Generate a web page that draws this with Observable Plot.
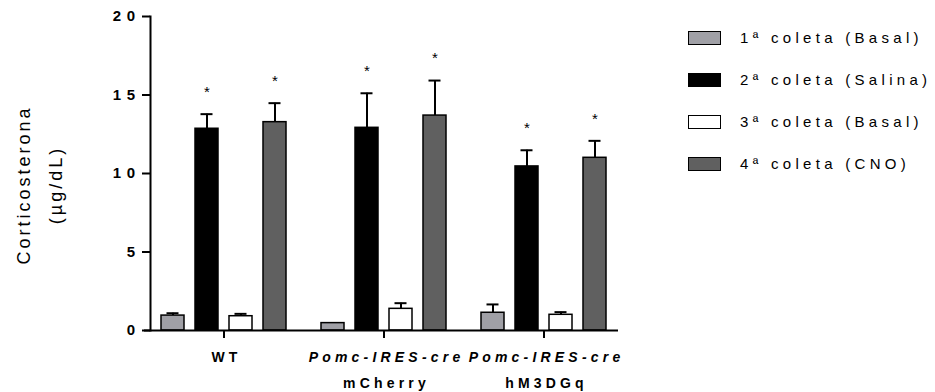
<!DOCTYPE html>
<html>
<head>
<meta charset="utf-8">
<script src="https://cdn.jsdelivr.net/npm/d3@7"></script>
<script src="https://cdn.jsdelivr.net/npm/@observablehq/plot@0.6"></script>
<style>
  body { margin: 0; background: #fff; font-family: "Liberation Sans", Arial, sans-serif; color: #000; }
  #wrap { position: relative; width: 935px; height: 392px; overflow: hidden; }
  #chart { position: absolute; left: 0; top: 0; }
  #chart svg { font-family: "Liberation Sans", Arial, sans-serif; overflow: visible; }
  g[aria-label="y-axis tick label"] text { letter-spacing: 5.5px; }
  text[aria-label="xlabel"], g[aria-label="xlabel"] text { letter-spacing: 4.2px; }
  #ytitle { position: absolute; left: 40px; top: 185px; transform: translate(-50%, -50%) rotate(-90deg);
            text-align: center; font-size: 18px; letter-spacing: 3px; line-height: 32px; white-space: nowrap; }
  #legend { position: absolute; left: 688px; top: 0; }
  .lrow { position: absolute; left: 0; display: flex; align-items: center; white-space: nowrap; }
  .lsw { width: 31px; height: 12px; border: 1.5px solid #000; box-sizing: content-box; }
  .ltx { margin-left: 19px; font-size: 15px; letter-spacing: 4.3px; }
</style>
</head>
<body>
<div id="wrap">
  <div id="chart"></div>
  <div id="ytitle"></div>
  <div id="legend"></div>
</div>
<script>
// ---- data ----
const groups = ["WT", "Pomc-IRES-cre mCherry", "Pomc-IRES-cre hM3DGq"];
const groupLine1 = ["WT", "Pomc-IRES-cre", "Pomc-IRES-cre"];
const groupLine2 = ["", "mCherry", "hM3DGq"];
const groupItalic = [false, true, true];

const series = ["1ª coleta (Basal)", "2ª coleta (Salina)", "3ª coleta (Basal)", "4ª coleta (CNO)"];
const seriesColors = ["#a0a0a6", "#000000", "#ffffff", "#606060"];

const basal1Mean = [0.95, 0.47, 1.13];
const basal1Sem  = [0.15, 0.00, 0.53];
const salinaMean = [12.85, 12.91, 10.45];
const salinaSem  = [0.93, 2.20, 1.03];
const basal3Mean = [0.91, 1.38, 1.00];
const basal3Sem  = [0.15, 0.36, 0.17];
const cnoMean    = [13.27, 13.69, 11.00];
const cnoSem     = [1.21, 2.23, 1.08];
const basal1Sig  = [false, false, false];
const salinaSig  = [true, true, true];
const basal3Sig  = [false, false, false];
const cnoSig     = [true, true, true];

const yTicks = [0, 5, 10, 15, 20];
const yTitle = ["Corticosterona", "(µg/dL)"];

// ---- build table ----
const means = [basal1Mean, salinaMean, basal3Mean, cnoMean];
const sems = [basal1Sem, salinaSem, basal3Sem, cnoSem];
const sigs = [basal1Sig, salinaSig, basal3Sig, cnoSig];
const table = groups.flatMap((g, gi) => series.map((s, si) => ({
  group: g, series: s, mean: means[si][gi], sem: sems[si][gi], sig: sigs[si][gi]
})));
const errData = table.filter(d => d.sem > 0);
const sigData = table.filter(d => d.sig);
const xLabels = groups.map((g, i) => ({group: g, line1: groupLine1[i], line2: groupLine2[i], italic: groupItalic[i]}));
const lastGroup = groups[groups.length - 1];

const chart = Plot.plot({
  width: 680,
  height: 392,
  marginLeft: 144,
  marginRight: 56,
  marginTop: 16,
  marginBottom: 62,
  style: {background: "#fff", color: "#000"},
  fx: {domain: groups, paddingInner: 0, paddingOuter: 0, label: null, axis: null},
  x: {domain: series, paddingInner: 0.32, paddingOuter: 0.5, axis: null},
  y: {domain: [0, 20], label: null},
  color: {domain: series, range: seriesColors},
  marks: [
    Plot.barY(table, {fx: "group", x: "series", y: "mean", fill: "series", stroke: "#000", strokeWidth: 1.5}),
    Plot.ruleX(errData, {fx: "group", x: "series", y1: "mean", y2: d => d.mean + d.sem, stroke: "#000", strokeWidth: 2}),
    Plot.tickY(errData, {fx: "group", x: "series", y: d => d.mean + d.sem, stroke: "#000", strokeWidth: 2, inset: 5.5}),
    Plot.text(sigData, {fx: "group", x: "series", y: d => d.mean + d.sem, text: () => "*", dy: -22, fontSize: 15, fill: "#000"}),
    // baseline
    Plot.ruleY(xLabels.filter(d => d.group !== lastGroup), {fx: "group", y: () => 0, stroke: "#000", strokeWidth: 2}),
    Plot.ruleY(xLabels.filter(d => d.group === lastGroup), {fx: "group", y: () => 0, insetRight: 6, stroke: "#000", strokeWidth: 2}),
    // y axis line and ticks
    Plot.frame({anchor: "left", fx: [groups[0]], dx: 6, stroke: "#000", strokeWidth: 2}),
    Plot.axisY({ticks: yTicks, tickSize: 8, tickPadding: 2, dx: 6, fontSize: 15, fontWeight: "bold", strokeWidth: 2, label: null, tickFormat: d => String(d)}),
    // group tick marks below the baseline, at the centre of each facet (thin rect shifted below the frame)
    Plot.rectY(xLabels, {fx: "group", y1: () => 0, y2: () => 0.5, dy: 8, insetLeft: 79, insetRight: 79, fill: "#000"}),
    Plot.text(xLabels.filter(d => !d.italic), {fx: "group", text: "line1", frameAnchor: "bottom", dx: 2, dy: 31, fontSize: 14, fontWeight: "bold", ariaLabel: () => "xlabel"}),
    Plot.text(xLabels.filter(d => d.italic), {fx: "group", text: "line1", frameAnchor: "bottom", dx: 2, dy: 31, fontSize: 14, fontWeight: "bold", fontStyle: "italic", ariaLabel: () => "xlabel"}),
    Plot.text(xLabels, {fx: "group", text: "line2", frameAnchor: "bottom", dx: 2, dy: 57, fontSize: 14, fontWeight: "bold", ariaLabel: () => "xlabel"})
  ]
});
document.getElementById("chart").appendChild(chart);

// y title
const yt = document.getElementById("ytitle");
yTitle.forEach(t => { const d = document.createElement("div"); d.textContent = t; yt.appendChild(d); });

// legend
const leg = d3.select("#legend");
series.forEach((s, i) => {
  const row = leg.append("div").attr("class", "lrow").style("top", (29 + i * 42) + "px");
  row.append("div").attr("class", "lsw").style("background", seriesColors[i]);
  row.append("div").attr("class", "ltx").text(s);
});
</script>
</body>
</html>
